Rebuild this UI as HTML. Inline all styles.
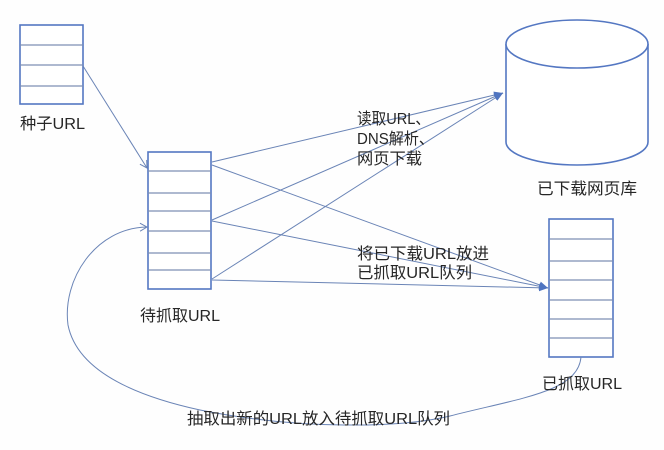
<!DOCTYPE html>
<html>
<head>
<meta charset="utf-8">
<style>
html,body{margin:0;padding:0;background:#ffffff;}
svg{display:block;}
text{font-family:"Liberation Sans","Noto Sans CJK SC",sans-serif;font-size:16px;fill:#262626;}
</style>
</head>
<body>
<svg width="664" height="450" viewBox="0 0 664 450" xmlns="http://www.w3.org/2000/svg">
<defs>
<marker id="fa" markerWidth="10" markerHeight="8" refX="9" refY="4" orient="auto" markerUnits="userSpaceOnUse">
<path d="M0,0.5 L9,4 L0,7.5 Z" fill="#4f74c0"/>
</marker>
<marker id="oa" markerWidth="10" markerHeight="10" refX="8" refY="5" orient="auto" markerUnits="userSpaceOnUse">
<path d="M1,1 L8,5 L1,9" fill="none" stroke="#6a84b6" stroke-width="1"/>
</marker>
</defs>
<rect width="664" height="450" fill="#fefefe"/>

<!-- seed box -->
<rect x="20" y="25" width="63" height="79" fill="#fff" stroke="#5477c2" stroke-width="1.6"/>
<g stroke="#7d8fb5" stroke-width="1.2">
<line x1="20" y1="45" x2="83" y2="45"/>
<line x1="20" y1="65" x2="83" y2="65"/>
<line x1="20" y1="86" x2="83" y2="86"/>
</g>

<!-- pending box -->
<rect x="148" y="152" width="63" height="137" fill="#fff" stroke="#5477c2" stroke-width="1.6"/>
<g stroke="#7d8fb5" stroke-width="1.2">
<line x1="148" y1="171" x2="211" y2="171"/>
<line x1="148" y1="193" x2="211" y2="193"/>
<line x1="148" y1="211" x2="211" y2="211"/>
<line x1="148" y1="231" x2="211" y2="231"/>
<line x1="148" y1="253" x2="211" y2="253"/>
<line x1="148" y1="270" x2="211" y2="270"/>
</g>

<!-- crawled box -->
<rect x="549" y="219" width="64" height="138" fill="#fff" stroke="#5477c2" stroke-width="1.6"/>
<g stroke="#7d8fb5" stroke-width="1.2">
<line x1="549" y1="239" x2="613" y2="239"/>
<line x1="549" y1="261" x2="613" y2="261"/>
<line x1="549" y1="280" x2="613" y2="280"/>
<line x1="549" y1="300" x2="613" y2="300"/>
<line x1="549" y1="319" x2="613" y2="319"/>
<line x1="549" y1="338" x2="613" y2="338"/>
</g>

<!-- cylinder -->
<path d="M506,44 L506,142 A71,23 0 0 0 648,142 L648,44" fill="#fff" stroke="#5477c2" stroke-width="1.6"/>
<ellipse cx="577" cy="44" rx="71" ry="24" fill="#fff" stroke="#5477c2" stroke-width="1.6"/>

<!-- connectors -->
<g stroke="#6a84b6" stroke-width="1" fill="none">
<line x1="83" y1="66" x2="147" y2="168" marker-end="url(#oa)"/>
<line x1="212" y1="162" x2="503" y2="93" marker-end="url(#fa)"/>
<line x1="212" y1="220" x2="503" y2="93" marker-end="url(#fa)"/>
<line x1="212" y1="279" x2="503" y2="93" marker-end="url(#fa)"/>
<line x1="212" y1="165" x2="548" y2="288" marker-end="url(#fa)"/>
<line x1="212" y1="221" x2="548" y2="288" marker-end="url(#fa)"/>
<line x1="212" y1="280" x2="548" y2="288" marker-end="url(#fa)"/>
<path d="M581,357 C578,392 520,398 450,416 C400,428 300,430 200,410 C145,398 78,375 68,325 C62,280 95,228 147,227" marker-end="url(#oa)"/>
</g>

<!-- labels -->
<text x="20" y="129" textLength="65" lengthAdjust="spacingAndGlyphs">种子URL</text>
<text x="140" y="321" textLength="80" lengthAdjust="spacingAndGlyphs">待抓取URL</text>
<text x="537" y="194" textLength="100" lengthAdjust="spacingAndGlyphs">已下载网页库</text>
<text x="542" y="389" textLength="80" lengthAdjust="spacingAndGlyphs">已抓取URL</text>
<text x="357" y="124" textLength="73" lengthAdjust="spacingAndGlyphs">读取URL、</text>
<text x="357" y="144" textLength="77" lengthAdjust="spacingAndGlyphs">DNS解析、</text>
<text x="357" y="164" textLength="65" lengthAdjust="spacingAndGlyphs">网页下载</text>
<text x="357" y="259" textLength="132" lengthAdjust="spacingAndGlyphs">将已下载URL放进</text>
<text x="357" y="278" textLength="115" lengthAdjust="spacingAndGlyphs">已抓取URL队列</text>
<text x="187" y="424" textLength="263" lengthAdjust="spacingAndGlyphs">抽取出新的URL放入待抓取URL队列</text>
</svg>
</body>
</html>
